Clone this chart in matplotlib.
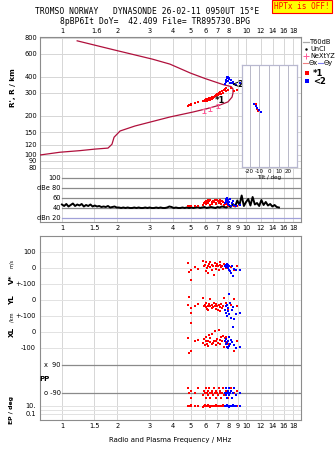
import numpy as np
import matplotlib
matplotlib.use("Agg")
import matplotlib.pyplot as plt
from matplotlib.ticker import NullLocator

W, H = 335, 451

# ---- data ----
xticks_bot = [1, 1.5, 2, 3, 4, 5, 6, 7, 8, 9, 10, 12, 14, 16, 18]
xticks_top = [1, 1.55, 2, 3, 4, 5, 6, 7, 8, 10, 12, 14, 16, 18]
xlabels_top = ['1', '1.6', '2', '3', '4', '5', '6', '7', '8', '10', '12', '14', '16', '18']
h_ticks = [80, 90, 100, 120, 150, 200, 300, 400, 600, 800]

# profile / virtual height trace (one continuous line)
prof_f = [0.76, 0.975, 1.25, 1.51, 1.78, 1.87, 1.92, 2.07, 2.49, 3.01, 3.86, 5.15, 6.2, 7.2,
          7.98, 8.4, 8.5, 8.5, 8.3, 7.5, 6.0, 5.0, 3.86, 3.1, 1.92, 1.21]
prof_h = [100, 105, 108, 111, 113, 121, 137, 153, 167, 179, 196, 214, 228, 242,
          256, 279, 300, 322, 336, 348, 387, 426, 500, 546, 643, 755]

nexyz_f = [5.9, 6.38, 7.04]
nexyz_h = [218, 226, 238]

red_f = [4.85, 4.9, 5.0, 5.05, 5.3, 5.5, 5.85, 5.9, 6.0, 6.05, 6.1, 6.15, 6.2, 6.25, 6.3, 6.35,
         6.4, 6.5, 6.55, 6.6, 6.7, 6.8, 6.85, 6.9, 7.0, 7.05, 7.1, 7.2, 7.25, 7.3, 7.4, 7.5,
         7.6, 7.7, 7.75, 7.8, 8.0, 8.3, 8.6, 8.9]
red_h = [238, 242, 244, 246, 250, 255, 262, 258, 265, 260, 268, 262, 270, 264, 272, 266,
         275, 270, 278, 273, 280, 285, 290, 283, 295, 288, 300, 292, 305, 297, 310, 302,
         315, 320, 308, 325, 318, 330, 312, 318]
blue_f = [7.7, 7.75, 7.8, 7.85, 7.9, 7.95, 8.0, 8.05, 8.1, 8.2, 8.3, 8.4, 8.5, 8.6, 8.8, 9.3]
blue_h = [352, 365, 380, 395, 388, 400, 372, 392, 385, 360, 375, 355, 362, 350, 345, 358]

# tilt inset
tilt_red_x = [-13, -13, -12, -12, -11]
tilt_red_h = [248, 240, 232, 225, 218]
tilt_blue_x = [-16, -14, -12, -10, -8]
tilt_blue_h = [245, 238, 230, 222, 215]

# amplitude panel
noise_db = [47, 44, 48, 43, 46, 49, 44, 47, 45, 48, 43, 46, 44, 47, 43, 45,
            43, 44, 42, 43, 42, 44, 41, 42, 43, 41,
            41, 40, 41, 40, 41, 40, 40, 41, 40, 41, 40, 40, 41, 40, 41, 40, 40, 41, 40, 41,
            40, 40, 41, 43, 42, 40, 41, 40, 40, 41, 40, 41,
            40, 41, 40, 41, 42, 40, 41, 42, 40, 41, 42, 41, 40, 42, 41, 43, 42, 41,
            44, 42, 48, 43, 55, 46, 65, 44, 52, 58, 45, 62, 47, 50, 44, 56, 46, 52, 45, 48,
            43, 46, 42, 41]
noise_f = np.geomspace(1, 15.1, len(noise_db))
red_db = [44, 43, 45, 44, 43, 44, 46, 50, 53, 48, 55, 52, 57, 50, 54, 47, 56, 52, 49, 55,
          53, 57, 51, 48, 56, 54, 50, 57, 53, 48, 55, 52, 46, 50, 54, 48, 45, 44, 43, 44]
blue_db = [50, 55, 58, 60, 53, 48, 56, 46, 52, 59, 45, 50, 55, 47, 44, 46]

# lower panels
red_v = [30, -25, -75, -10, 5, -5, 45, 10, 20, -20, 35, 0, 15, -30, 25, 5, 40, -10, 20, 10,
         -45, 30, 15, -5, 25, 10, -15, 20, 35, 5, 15, -5, 25, 10, 0, 20, 15, 5, -10, 10]
blue_v = [15, 20, 5, 25, 10, 0, 20, -10, 15, -20, -30, 10, -50, -5, -10, -15]
red_yl = [-30, 20, -50, -80, -35, -25, 10, -40, -30, -45, -20, -55, -35, -60, -25, -40, 5, -50,
          -30, -45, -20, -35, -55, -25, -40, -60, -30, -70, -45, -25, -50, -35, 15, -65, -40,
          -20, -55, -30, 5, -40]
blue_yl = [-60, -40, -80, -30, -100, -50, -70, 40, -90, -20, -110, -60, -45, -120, -90, -80]
red_xl = [-40, -135, -120, 55, -60, -50, -70, -45, -85, -60, -30, -75, -55, -90, -20, -65, -40,
          -80, -10, -70, -55, 5, -60, -85, -45, -70, 15, -50, -75, -35, -60, -25, -95, -40,
          -65, -30, -80, -50, -120, -60]
blue_xl = [-60, -80, -45, -95, -70, -105, -55, -90, -30, -75, -50, -65, 30, -85, -100, -95]
red_pp = [-60, -90, -120, -75, -90, -60, -105, -75, -90, -120, -60, -90, -105, -75, -60, -90,
          -120, -90, -75, -105, -60, -90, -120, -75, -90, -105, -60, -90, -75, -120, -90, -60,
          -105, -90, -75, -90, -120, -60, -90, -75]
blue_pp = [-90, -60, -105, -90, -120, -75, -90, -60, -105, -90, -75, -120, -90, -60, -105, -90]
red_ep = [12, 10, 8, 15, 10, 12, 6, 10, 14, 8, 10, 12, 9, 16, 10, 7, 11, 13, 9, 10, 12, 8, 15,
          10, 11, 9, 13, 10, 8, 12, 10, 14, 9, 11, 10, 8, 12, 10, 9, 11]
blue_ep = [10, 12, 8, 14, 10, 9, 11, 7, 13, 10, 8, 12, 20, 10, 9, 11]

LINE = '#b0103c'
GRID = '#d6d6d6'
FRAME = '#8c8c8c'
RED = '#ff0000'
BLUE = '#0000ff'
PINK = '#ff5a96'
FS = 4.8
MS = 2.1

plt.rcParams['font.family'] = 'DejaVu Sans'


def box(x0, y0, x1, y1):
    return [x0 / W, 1 - y1 / H, (x1 - x0) / W, (y1 - y0) / H]


def freq_axis(ax):
    ax.set_xscale('log')
    ax.set_xlim(0.76, 19.9)
    ax.xaxis.set_minor_locator(NullLocator())
    ax.yaxis.set_minor_locator(NullLocator())
    for f in xticks_bot:
        ax.axvline(f, color=GRID, lw=0.7, zorder=0)
    for s in ax.spines.values():
        s.set_color(FRAME)
        s.set_linewidth(0.8)
    ax.tick_params(length=0, labelsize=FS, pad=2)


fig = plt.figure(figsize=(W / 100, H / 100), dpi=100)

# ---- height panel ----
ax_h = fig.add_axes(box(40, 37, 301, 172))
freq_axis(ax_h)
ax_h.set_yscale('log')
ax_h.set_ylim(74, 808)
ax_h.yaxis.set_minor_locator(NullLocator())
ax_h.set_yticks(h_ticks)
ax_h.set_yticklabels([str(t) for t in h_ticks], fontsize=FS)
for t in h_ticks:
    ax_h.axhline(t, color=GRID, lw=0.7, zorder=0)
ax_h.xaxis.tick_top()
ax_h.set_xticks(xticks_top)
ax_h.set_xticklabels(xlabels_top, fontsize=FS)
ax_h.xaxis.set_minor_locator(NullLocator())
ax_h.spines['bottom'].set_visible(False)

ax_h.plot(prof_f, prof_h, color=LINE, lw=0.9, zorder=3)
ax_h.errorbar(nexyz_f, nexyz_h, yerr=[[8, 8, 8], [8, 8, 8]], fmt='none',
              ecolor=PINK, elinewidth=0.7, capsize=1.5, capthick=0.7, zorder=4)
ax_h.plot(red_f, red_h, 's', color=RED, ms=MS, mew=0, zorder=5)
ax_h.plot(blue_f, blue_h, 's', color=BLUE, ms=MS, mew=0, zorder=5)
ax_h.text(6.75, 262, '*1', fontsize=6, fontweight='bold', va='center', zorder=6)
ax_h.text(8.3, 348, '<2', fontsize=6, fontweight='bold', va='center', zorder=6)

# ---- amplitude panel ----
ax_d = fig.add_axes(box(40, 172, 301, 222))
freq_axis(ax_d)
ax_d.set_ylim(12, 112)
ax_d.set_yticks([])
ax_d.set_xticks(xticks_bot)
ax_d.set_xticklabels([str(t) for t in xticks_bot], fontsize=FS)
ax_d.xaxis.set_minor_locator(NullLocator())
ax_d.spines['top'].set_visible(False)
x_f1 = (62 - 40) / 261
for lvl, lab in [(100, '100'), (80, 'dBe 80'), (60, '60'), (40, '40'), (20, 'dBn 20')]:
    col = '#a0a0d8' if lvl == 20 else '#8a8a8a'
    ax_d.axhline(lvl, xmin=x_f1, color=col, lw=0.9, zorder=1)
    ax_d.text(x_f1 - 0.005, lvl, lab, transform=ax_d.get_yaxis_transform(),
              ha='right', va='center', fontsize=FS)
ax_d.plot(noise_f, noise_db, color='black', lw=1.4, zorder=3)
ax_d.plot(red_f, red_db, 's', color=RED, ms=MS, mew=0, zorder=4)
ax_d.plot(blue_f, blue_db, 's', color=BLUE, ms=MS, mew=0, zorder=4)

# ---- lower panel (rows in pixel units) ----
ax_b = fig.add_axes(box(40, 236, 301, 420))
freq_axis(ax_b)
ax_b.set_ylim(420, 236)
ax_b.set_xticks(xticks_bot)
ax_b.set_xticklabels([str(t) for t in xticks_bot], fontsize=FS)
ax_b.xaxis.set_minor_locator(NullLocator())
row_ticks = [252, 268, 284, 300, 316, 332, 348, 406, 414]
row_labels = ['100', '0', '+-100', '0', '+-100', '0', '-100', '10.', '0.1']
ax_b.set_yticks(row_ticks)
ax_b.set_yticklabels(row_labels, fontsize=FS)
ax_b.tick_params(axis='y', pad=3)
for r in row_ticks + [410]:
    ax_b.axhline(r, color='#e2e2e2', lw=0.7, zorder=0)
for r, lab in [(365, 'x  90'), (393, 'o -90')]:
    ax_b.axhline(r, xmin=x_f1, color='#8a8a8a', lw=0.9, zorder=1)
    ax_b.text(x_f1 - 0.005, r, lab, transform=ax_b.get_yaxis_transform(),
              ha='right', va='center', fontsize=FS)
ax_b.set_xlabel('Radio and Plasma Frequency / MHz', fontsize=5, labelpad=6)


def v_row(v):
    return 268 - 0.16 * np.asarray(v)


def yl_row(v):
    return 300 - 0.16 * np.asarray(v)


def xl_row(v):
    return 332 - 0.155 * np.asarray(v)


def pp_row(v):
    return 379 - 14 / 90 * np.asarray(v)


def ep_row(v):
    return 410 - 4 * np.log10(np.asarray(v, dtype=float))


for fn, rv, bv in [(v_row, red_v, blue_v), (yl_row, red_yl, blue_yl), (xl_row, red_xl, blue_xl),
                   (pp_row, red_pp, blue_pp), (ep_row, red_ep, blue_ep)]:
    ax_b.plot(red_f, fn(rv), 's', color=RED, ms=MS, mew=0, zorder=4)
    ax_b.plot(blue_f, fn(bv), 's', color=BLUE, ms=MS, mew=0, zorder=4)

# ---- tilt inset ----
ax_t = fig.add_axes(box(242, 65, 297, 167))
ax_t.set_facecolor('white')
ax_t.set_xlim(-28, 29)
ax_t.set_yscale('log')
ax_t.set_ylim(81, 493)
ax_t.yaxis.set_minor_locator(NullLocator())
ax_t.set_yticks([])
ax_t.set_xticks([-20, -10, 0, 10, 20])
ax_t.set_xticklabels(['-20', '-10', '0', '10', '20'], fontsize=4)
ax_t.tick_params(length=0, pad=1.5)
ax_t.set_xlabel('Tilt / deg', fontsize=4, labelpad=0.5)
for v in [-20, -10, 0, 10, 20]:
    ax_t.axvline(v, color='#b8b8c8', lw=0.7, zorder=0)
for s in ax_t.spines.values():
    s.set_color('#b8b8d0')
    s.set_linewidth(0.9)
ax_t.plot(tilt_red_x, tilt_red_h, 's', color=RED, ms=1.6, mew=0)
ax_t.plot(tilt_blue_x, tilt_blue_h, 's', color=BLUE, ms=1.8, mew=0)

# ---- legend (pixel coordinates) ----
ax_l = fig.add_axes(box(302, 36, 335, 86))
ax_l.set_xlim(302, 335)
ax_l.set_ylim(86, 36)
ax_l.axis('off')
ax_l.plot([303, 309], [42, 42], color='#a8a8a8', lw=0.9)
ax_l.text(310, 42, 'T60dB', fontsize=FS, va='center')
ax_l.plot([306], [49], '.', color='black', ms=1.5)
ax_l.text(310, 49, 'UnCl', fontsize=FS, va='center')
ax_l.plot([306], [56], '+', color=PINK, ms=4, mew=0.7)
ax_l.text(310, 56, 'NeXtYZ', fontsize=FS, va='center')
ax_l.plot([303, 308], [63, 63], color='#f08080', lw=0.8)
ax_l.text(309, 63, '\u0398x', fontsize=FS, va='center')
ax_l.plot([318, 323], [63, 63], color='#8080f0', lw=0.8)
ax_l.text(324, 63, '\u0398y', fontsize=FS, va='center')
ax_l.plot([307], [73], 's', color=RED, ms=2.5, mew=0)
ax_l.text(313, 73, '*1', fontsize=6, fontweight='bold', va='center')
ax_l.plot([307], [81], 's', color=BLUE, ms=2.5, mew=0)
ax_l.text(313, 81, '<2', fontsize=6, fontweight='bold', va='center')

# ---- titles and side labels ----
def ftext(x, y, s, **kw):
    fig.text(x / W, 1 - y / H, s, **kw)


ftext(35, 12, 'TROMSO NORWAY   DYNASONDE 26-02-11 0950UT 15\u00b0E',
      fontsize=5.8, family='DejaVu Sans Mono', va='center')
ftext(60, 21, '8pBP6It DoY=  42.409 File= TR895730.BPG',
      fontsize=5.8, family='DejaVu Sans Mono', va='center')
ftext(302, 6.5, 'HPTx is OFF!', fontsize=5.6, family='DejaVu Sans Mono', color='red',
      ha='center', va='center',
      bbox=dict(boxstyle='square,pad=0.25', fc='#ffff00', ec='red', lw=0.8))

side = dict(rotation=90, ha='center', va='center', fontweight='bold')
ftext(13, 88, "R', R / km", fontsize=5.2, **side)
ftext(12, 279, 'V*', fontsize=5.2, **side)
ftext(12, 264, 'm/s', fontsize=3.6, rotation=90, ha='center', va='center')
ftext(12, 300, 'YL', fontsize=5.2, **side)
ftext(12, 317, '/km', fontsize=3.6, rotation=90, ha='center', va='center')
ftext(12, 332, 'XL', fontsize=5.2, **side)
ftext(12, 410, 'EP / deg', fontsize=4.4, **side)
ftext(45, 379, 'PP', fontsize=5, fontweight='bold', ha='center', va='center')

fig.savefig('out.png', dpi=100)
